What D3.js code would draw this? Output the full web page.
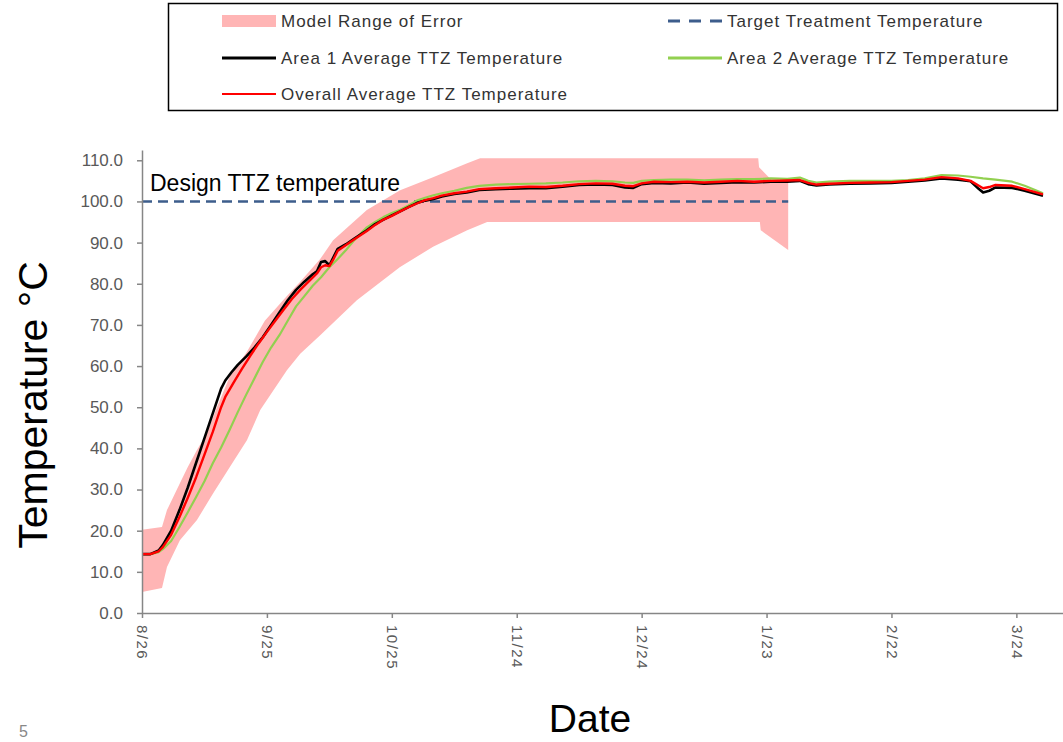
<!DOCTYPE html>
<html>
<head>
<meta charset="utf-8">
<script src="https://cdn.jsdelivr.net/npm/d3@7"></script>
<style>
  body { margin: 0; background: #fff; }
  svg { display: block; font-family: "Liberation Sans", Arial, sans-serif; }
</style>
</head>
<body>
<div id="chart"></div>
<script>

// x is days since 8/26
let tickDays = [0, 30, 60, 90, 120, 150, 180, 210];
let tickLabels = ["8/26", "9/25", "10/25", "11/24", "12/24", "1/23", "2/22", "3/24"];
let yTicks = [0, 10, 20, 30, 40, 50, 60, 70, 80, 90, 100, 110];

let targetTemp = 100;
let targetDays = [0, 155.2];

// model range of error (upper and lower edge)
let bandTopDays = [0, 4.8, 6, 9.1, 11, 13.2, 15.6, 18, 21.1, 25.2, 29.5, 34.8, 38, 42.8, 45.9, 54, 62, 69.9, 78.1, 81.2, 148, 148.2, 151.3, 155.2];
let bandTop = [20.2, 20.9, 25, 31.5, 35.5, 39.6, 43.7, 50, 57.5, 63.5, 71, 77, 80.5, 86, 90.6, 97.9, 102.7, 105.9, 109.3, 110.5, 110.5, 108.3, 105.1, 104.9];
let bandLowDays = [0, 4.8, 6, 9.1, 13.2, 17.1, 21.1, 25.2, 28.4, 34.8, 38, 42.8, 51.6, 61.9, 69.9, 78.1, 82.9, 148.4, 148.6, 155.2];
let bandLow = [5.1, 6.1, 11.2, 17.7, 22.6, 29.1, 35.5, 42, 49.3, 59, 63, 67.5, 76, 84, 89, 93, 95, 95, 93, 88.2];

let area1Days = [0, 2, 4, 5, 7, 9, 11, 13, 15, 17, 19, 20, 21.5, 23, 25, 27, 29, 31, 33, 35, 37, 39, 41, 42, 43, 44, 45, 46, 47, 49, 51, 54, 56, 58, 60, 62, 64, 66, 68, 70, 72, 75, 78, 81, 85, 89, 93, 97, 101, 105, 109, 113, 116, 118, 120, 123, 127, 131, 135, 139, 143, 147, 151, 155, 158, 160, 162, 165, 170, 175, 180, 184, 188, 192, 196, 199, 201, 202, 203.5, 205, 209, 212, 216.4];
let area1Temp = [14.3, 14.3, 15.2, 16.5, 20, 25, 30.5, 36.5, 42.5, 48.5, 54.5, 56.5, 58.5, 60.3, 62.3, 64.5, 67, 70, 73, 76, 78.5, 80.5, 82.3, 83, 85.3, 85.5, 84.5, 86.5, 88.5, 89.6, 91, 93, 94.5, 95.6, 96.6, 97.6, 98.6, 99.6, 100.2, 100.6, 101.2, 101.8, 102.2, 102.8, 103, 103.1, 103.2, 103.2, 103.6, 104, 104.1, 104, 103.4, 103.3, 104.2, 104.5, 104.4, 104.6, 104.3, 104.5, 104.7, 104.6, 104.8, 104.8, 105, 104.2, 103.9, 104.1, 104.3, 104.4, 104.5, 104.8, 105.1, 105.6, 105.3, 104.9, 103, 102.2, 102.6, 103.4, 103.3, 102.6, 101.4];

let area2Days = [0, 2, 4, 5, 7, 9, 11, 13, 15, 17, 19, 21, 23, 25, 27, 29, 31, 33, 35, 37, 39, 41, 43, 45, 47, 49, 51, 54, 56, 58, 60, 62, 64, 66, 68, 70, 72, 75, 78, 81, 85, 89, 93, 97, 101, 105, 109, 113, 116, 118, 120, 123, 127, 131, 135, 139, 143, 147, 151, 155, 158, 160, 162, 165, 170, 175, 180, 184, 188, 192, 196, 199, 202, 205, 209, 212, 216.4];
let area2Temp = [14.3, 14.3, 14.8, 15.5, 17.5, 20.9, 24.5, 28.2, 32, 36.4, 40.2, 44.4, 48.8, 53, 57, 61, 64.5, 67.5, 71, 74.5, 77, 79.5, 81.6, 84, 86, 88.2, 90.6, 93.7, 95, 96.2, 97.2, 98, 99, 100.2, 100.9, 101.5, 102, 102.6, 103.3, 103.8, 104.1, 104.2, 104.3, 104.4, 104.6, 104.9, 105, 104.9, 104.6, 104.5, 105, 105.2, 105.3, 105.3, 105.1, 105.3, 105.4, 105.4, 105.6, 105.5, 105.8, 105, 104.6, 104.8, 105, 105, 105, 105.2, 105.6, 106.4, 106.3, 106, 105.6, 105.3, 104.8, 103.8, 102];

let overallDays = [0, 2, 4, 5, 7, 9, 11, 13, 15, 17, 19, 20, 22, 24, 26, 28, 30, 32, 34, 36, 38, 40, 42, 43, 44, 45, 46, 47, 49, 51, 54, 56, 58, 60, 62, 64, 66, 68, 70, 72, 75, 78, 81, 85, 89, 93, 97, 101, 105, 109, 113, 116, 118, 120, 123, 127, 131, 135, 139, 143, 147, 151, 155, 158, 160, 162, 165, 170, 175, 180, 184, 188, 192, 196, 199, 201, 202, 203.5, 205, 209, 212, 216.4];
let overallTemp = [14.3, 14.3, 15, 16, 19, 23.3, 28, 33, 38.5, 44, 50, 52.5, 56, 59.3, 62.5, 65.5, 68.3, 71, 73.7, 76.3, 78.5, 80.5, 82.5, 84, 84.5, 84.3, 86, 88, 89.4, 90.8, 92.8, 94.3, 95.6, 96.5, 97.6, 98.6, 99.5, 100.3, 100.8, 101.4, 102, 102.4, 103, 103.2, 103.4, 103.6, 103.5, 103.8, 104.2, 104.4, 104.3, 103.8, 103.7, 104.4, 104.8, 104.7, 104.8, 104.6, 104.8, 105, 104.8, 105, 105.1, 105.2, 104.5, 104.1, 104.3, 104.5, 104.6, 104.7, 105, 105.3, 105.9, 105.6, 105, 103.8, 103.2, 103.5, 104, 103.8, 103, 101.7];

let width = 1063;
let height = 742;

let svg = d3.select("#chart")
	.append("svg")
	.attr("width", width)
	.attr("height", height);

let x = d3.scaleLinear().domain([0, 221.2]).range([142, 1063]);
let y = d3.scaleLinear().domain([0, 112.5]).range([613, 150]);

function pts(days, vals) {
	return days.map((d, i) => [d, vals[i]]);
}

let line = d3.line()
	.x(d => x(d[0]))
	.y(d => y(d[1]));

// error band as one polygon: top edge forward, low edge back
let bandPts = pts(bandTopDays, bandTop).concat(pts(bandLowDays, bandLow).reverse());
svg.append("path")
	.attr("d", line(bandPts) + "Z")
	.attr("fill", "#ffb5b5")
	.attr("stroke", "none");

// target line
svg.append("path")
	.attr("d", line(targetDays.map(d => [d, targetTemp])))
	.attr("fill", "none")
	.attr("stroke", "#3d5d8c")
	.attr("stroke-width", 2.5)
	.attr("stroke-dasharray", "10,6");

svg.append("text")
	.attr("x", 150)
	.attr("y", 191)
	.attr("font-size", 23)
	.attr("fill", "#000")
	.text("Design TTZ temperature");

// temperature series
let series = [
	{days: area2Days, vals: area2Temp, color: "#92d050", w: 2.2},
	{days: area1Days, vals: area1Temp, color: "#000000", w: 2.6},
	{days: overallDays, vals: overallTemp, color: "#ff0000", w: 2.4}
];
series.forEach(s => {
	svg.append("path")
		.attr("d", line(pts(s.days, s.vals)))
		.attr("fill", "none")
		.attr("stroke", s.color)
		.attr("stroke-width", s.w)
		.attr("stroke-linejoin", "round");
});

// axes
let yAxis = svg.append("g")
	.attr("transform", "translate(142,0)")
	.call(d3.axisLeft(y).tickValues(yTicks).tickFormat(d3.format(".1f")).tickSize(5).tickSizeOuter(0));

let xAxis = svg.append("g")
	.attr("transform", "translate(0,613)")
	.call(d3.axisBottom(x).tickValues(tickDays).tickFormat((d, i) => tickLabels[i]).tickSize(5).tickSizeOuter(0));

[yAxis, xAxis].forEach(a => {
	a.select(".domain").attr("stroke", "#868686").attr("stroke-width", 1.5);
	a.selectAll(".tick line").attr("stroke", "#868686").attr("stroke-width", 1.5);
	a.selectAll("text")
		.attr("fill", "#595959")
		.style("font-family", "'Liberation Sans', Arial, sans-serif");
});

yAxis.selectAll("text")
	.attr("x", -19)
	.style("font-size", "17px");

xAxis.selectAll("text")
	.attr("transform", "rotate(90)")
	.attr("x", 12)
	.attr("y", 0)
	.attr("dy", "0.35em")
	.style("font-size", "15px")
	.style("letter-spacing", "1.5px")
	.style("text-anchor", "start");

// axis titles
svg.append("text")
	.attr("transform", "translate(47,405) rotate(-90)")
	.attr("text-anchor", "middle")
	.attr("font-size", 41)
	.attr("fill", "#000")
	.text("Temperature \u00B0C");

svg.append("text")
	.attr("x", 590)
	.attr("y", 732)
	.attr("text-anchor", "middle")
	.attr("font-size", 39)
	.attr("fill", "#000")
	.text("Date");

svg.append("text")
	.attr("x", 19)
	.attr("y", 737)
	.attr("font-size", 16)
	.attr("fill", "#888")
	.text("5");

// legend
let legend = svg.append("g");
legend.append("rect")
	.attr("x", 168.5)
	.attr("y", 3.5)
	.attr("width", 889)
	.attr("height", 107)
	.attr("fill", "#fff")
	.attr("stroke", "#000")
	.attr("stroke-width", 1.5);

let legendItems = [
	{label: "Model Range of Error", kind: "band", col: 0, row: 0},
	{label: "Target Treatment Temperature", kind: "dash", col: 1, row: 0},
	{label: "Area 1 Average TTZ Temperature", kind: "#000000", col: 0, row: 1},
	{label: "Area 2 Average TTZ Temperature", kind: "#92d050", col: 1, row: 1},
	{label: "Overall Average TTZ Temperature", kind: "#ff0000", col: 0, row: 2}
];
let colX = [222, 668];
let rowY = [21, 58, 94];

legendItems.forEach(it => {
	let lx = colX[it.col];
	let ly = rowY[it.row];
	if (it.kind == "band") {
		legend.append("rect")
			.attr("x", lx).attr("y", ly - 6)
			.attr("width", 54).attr("height", 12)
			.attr("fill", "#ffb5b5");
	} else if (it.kind == "dash") {
		legend.append("line")
			.attr("x1", lx).attr("x2", lx + 54)
			.attr("y1", ly).attr("y2", ly)
			.attr("stroke", "#3d5d8c")
			.attr("stroke-width", 3)
			.attr("stroke-dasharray", "12,9");
	} else {
		legend.append("line")
			.attr("x1", lx).attr("x2", lx + 54)
			.attr("y1", ly).attr("y2", ly)
			.attr("stroke", it.kind)
			.attr("stroke-width", it.kind == "#ff0000" ? 2 : 3);
	}
	legend.append("text")
		.attr("x", lx + 59)
		.attr("y", ly + 6)
		.attr("font-size", 17)
		.attr("letter-spacing", 1)
		.attr("fill", "#333")
		.text(it.label);
});

</script>
</body>
</html>
